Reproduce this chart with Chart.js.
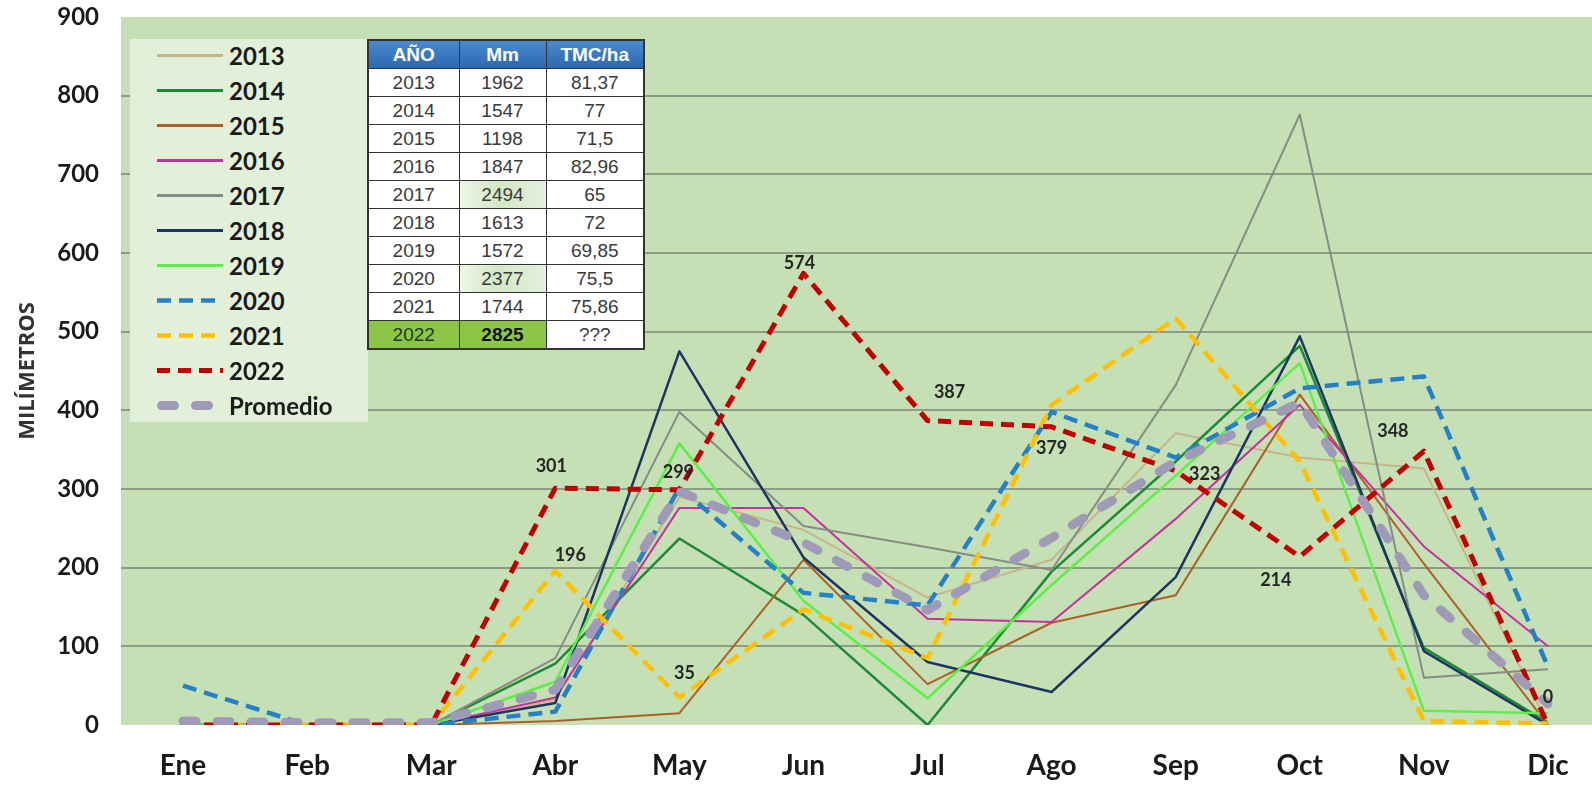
<!DOCTYPE html>
<html lang="es">
<head>
<meta charset="UTF-8">
<title>Precipitación mensual</title>
<script src="https://cdn.jsdelivr.net/npm/chart.js"></script>
<style>
    html, body {
        margin: 0;
        padding: 0;
        background: #ffffff;
        overflow: hidden;
    }
    #wrap {
        position: relative;
        width: 1592px;
        height: 787px;
        overflow: hidden;
    }
    #grafico {
        position: absolute;
        left: 0;
        top: 0;
        display: block;
    }
    #leyenda {
        position: absolute;
        left: 130px;
        top: 39px;
        width: 238px;
        height: 383px;
        background: #e2efd9;
    }
    .item {
        position: absolute;
        left: 27px;
        height: 35px;
        display: flex;
        align-items: center;
        font-family: Lato, sans-serif;
        font-weight: 700;
        font-size: 24px;
        color: #1a1a1a;
    }
    .item svg {
        margin-right: 6px;
    }
    #tabla {
        position: absolute;
        left: 367px;
        top: 39px;
        border-collapse: collapse;
        font-family: "Liberation Sans", Arial, sans-serif;
        font-size: 19px;
        color: #3a3a3a;
        background: #ffffff;
        border: 2px solid #333;
    }
    #tabla th, #tabla td {
        border: 1.5px solid #333;
        padding: 0;
        height: 27px;
        text-align: center;
        line-height: 27px;
    }
    #tabla th {
        background: linear-gradient(#4a8ad0, #2b68b0);
        color: #ffffff;
        font-weight: 700;
        font-size: 19px;
    }
    #tabla td.claro {
        background: linear-gradient(90deg, #eef6e8, #d3e7c5 45%, #e4f0dc);
    }
    #tabla td.verde {
        background: #8cc646;
        color: #1f3a1f;
    }
</style>
</head>
<body>
<div id="wrap">
    <canvas id="grafico" width="1612" height="787"></canvas>
    <div id="leyenda"></div>
    <table id="tabla"></table>
</div>

<script>
    const meses = ['Ene', 'Feb', 'Mar', 'Abr', 'May', 'Jun', 'Jul', 'Ago', 'Sep', 'Oct', 'Nov', 'Dic'];

    // milímetros por mes
    const lluvia2013 = [0, 0, 0, 32, 290, 248, 162, 210, 371, 340, 326, 0];
    const lluvia2014 = [0, 0, 0, 78, 237, 140, 0, 195, 335, 482, 98, 3];
    const lluvia2015 = [0, 0, 0, 5, 15, 210, 52, 130, 165, 420, 205, 0];
    const lluvia2016 = [0, 0, 0, 35, 276, 276, 135, 131, 262, 407, 227, 100];
    const lluvia2017 = [0, 0, 0, 85, 398, 253, 226, 197, 432, 776, 60, 71];
    const lluvia2018 = [0, 0, 0, 28, 475, 213, 80, 42, 188, 494, 94, 0];
    const lluvia2019 = [0, 0, 0, 55, 358, 158, 34, 178, 317, 460, 18, 15];
    const lluvia2020 = [50, 0, 0, 17, 302, 168, 152, 398, 340, 428, 443, 74];
    const lluvia2021 = [0, 0, 0, 196, 35, 147, 85, 407, 517, 335, 5, 2];
    const lluvia2022 = [0, 0, 0, 301, 299, 574, 387, 379, 323, 214, 348, 0];
    const promedio = [5, 3, 3, 45, 297, 232, 146, 238, 335, 410, 165, 27];

    const yTicks = [0, 100, 200, 300, 400, 500, 600, 700, 800, 900];

    // tabla resumen
    const tablaAnio = ['2013', '2014', '2015', '2016', '2017', '2018', '2019', '2020', '2021', '2022'];
    const tablaMm = ['1962', '1547', '1198', '1847', '2494', '1613', '1572', '2377', '1744', '2825'];
    const tablaTmc = ['81,37', '77', '71,5', '82,96', '65', '72', '69,85', '75,5', '75,86', '???'];

    const series = [
        { label: '2013', data: lluvia2013, color: '#c8b48c', width: 2, dash: [] },
        { label: '2014', data: lluvia2014, color: '#1f8a35', width: 2.5, dash: [] },
        { label: '2015', data: lluvia2015, color: '#ad5f28', width: 2, dash: [] },
        { label: '2016', data: lluvia2016, color: '#c6309e', width: 2, dash: [] },
        { label: '2017', data: lluvia2017, color: '#858c85', width: 2, dash: [] },
        { label: '2018', data: lluvia2018, color: '#1c3563', width: 2.5, dash: [] },
        { label: '2019', data: lluvia2019, color: '#5cef48', width: 2.5, dash: [] },
        { label: '2020', data: lluvia2020, color: '#2580c6', width: 4.5, dash: [14, 8] },
        { label: '2021', data: lluvia2021, color: '#ffc000', width: 4.5, dash: [14, 8] },
        { label: '2022', data: lluvia2022, color: '#c00000', width: 5, dash: [13, 8] },
        { label: 'Promedio', data: promedio, color: '#a09ab9', width: 9, dash: [13, 21], cap: 'round' }
    ];

    // desplazamiento de las etiquetas de valor respecto al punto
    const etiquetas = [
        { serie: '2022', dx: [null, null, null, -4, -1, -4, 22, 0, 29, -24, -31, 0],
                         dy: [null, null, null, -22, -18, -10, -28, 21, 3, 24, -20, -28] },
        { serie: '2021', dx: [null, null, null, 15, 5, null, null, null, null, null, null, null],
                         dy: [null, null, null, -16, -24, null, null, null, null, null, null, null] }
    ];

    const fondoPlot = {
        id: 'fondoPlot',
        beforeDraw(chart) {
            const { ctx, chartArea } = chart;
            ctx.save();
            ctx.fillStyle = '#c5e0b4';
            ctx.fillRect(chartArea.left, chartArea.top, chartArea.right - chartArea.left, chartArea.bottom - chartArea.top);
            ctx.restore();
        }
    };

    const valores = {
        id: 'valores',
        afterDatasetsDraw(chart) {
            const ctx = chart.ctx;
            ctx.save();
            ctx.font = '700 18px Lato, sans-serif';
            ctx.fillStyle = '#262626';
            ctx.textAlign = 'center';
            ctx.textBaseline = 'middle';
            etiquetas.forEach(et => {
                const idx = series.findIndex(s => s.label === et.serie);
                const meta = chart.getDatasetMeta(idx);
                const datos = series[idx].data;
                meta.data.forEach((pt, i) => {
                    if (et.dx[i] === null) return;
                    ctx.fillText(String(datos[i]), pt.x + et.dx[i], pt.y + et.dy[i]);
                });
            });
            ctx.restore();
        }
    };

    const ctx = document.getElementById('grafico').getContext('2d');
    new Chart(ctx, {
        type: 'line',
        data: {
            labels: meses,
            datasets: series.map((s, i) => ({
                label: s.label,
                data: s.data,
                borderColor: s.color,
                backgroundColor: s.color,
                borderWidth: s.width,
                borderDash: s.dash,
                borderCapStyle: s.cap || 'butt',
                borderJoinStyle: 'round',
                pointRadius: 0,
                tension: 0,
                fill: false,
                order: series.length - 1 - i
            }))
        },
        options: {
            responsive: false,
            animation: false,
            layout: { padding: { top: 17, right: 2, bottom: 4, left: 0 } },
            plugins: {
                legend: { display: false },
                tooltip: { enabled: false }
            },
            scales: {
                x: {
                    offset: true,
                    afterFit(scale) {
                        scale.height = 58;
                        scale.paddingTop = 0;
                        scale.paddingBottom = 0;
                    },
                    grid: { display: false, drawTicks: false },
                    border: { display: false },
                    ticks: {
                        padding: 24,
                        autoSkip: false,
                        maxRotation: 0,
                        color: '#1a1a1a',
                        font: { family: 'Lato', weight: '700', size: 28 }
                    }
                },
                y: {
                    min: 0,
                    max: 900,
                    afterBuildTicks(scale) {
                        scale.ticks = yTicks.map(v => ({ value: v }));
                    },
                    afterFit(scale) {
                        scale.width = 121;
                        scale.paddingTop = 0;
                        scale.paddingBottom = 0;
                    },
                    grid: {
                        drawTicks: false,
                        lineWidth: 2,
                        color: c => (c.tick && (c.tick.value === 0 || c.tick.value === 900)) ? 'rgba(0,0,0,0)' : '#8d9b87'
                    },
                    border: { display: false },
                    ticks: {
                        padding: 22,
                        color: '#1a1a1a',
                        font: { family: 'Lato', weight: '700', size: 24 }
                    },
                    title: {
                        display: true,
                        text: 'MILÍMETROS',
                        color: '#333333',
                        padding: { top: 15, bottom: 0 },
                        font: { family: 'Open Sans', weight: '700', size: 22 }
                    }
                }
            }
        },
        plugins: [fondoPlot, valores]
    });

    // leyenda
    const leyenda = document.getElementById('leyenda');
    series.forEach((s, i) => {
        const item = document.createElement('div');
        item.className = 'item';
        item.style.top = (55 + 35 * i - 17.5 - 39) + 'px';
        const dash = s.dash.length ? s.dash.join(' ') : 'none';
        const y = 17.5;
        const x0 = s.cap === 'round' ? s.width / 2 : 0;
        const x1 = s.cap === 'round' ? 66 - s.width / 2 : 66;
        item.innerHTML =
            '<svg width="66" height="35"><line x1="' + x0 + '" y1="' + y + '" x2="' + x1 + '" y2="' + y +
            '" stroke="' + s.color + '" stroke-width="' + Math.max(s.width, 3) +
            '" stroke-dasharray="' + dash + '" stroke-linecap="' + (s.cap || 'butt') + '"/></svg>' +
            '<span>' + s.label + '</span>';
        leyenda.appendChild(item);
    });

    // tabla
    const tabla = document.getElementById('tabla');
    let html = '<colgroup><col style="width:91px"><col style="width:87px"><col style="width:98px"></colgroup>';
    html += '<tr><th>AÑO</th><th>Mm</th><th>TMC/ha</th></tr>';
    tablaAnio.forEach((a, i) => {
        const ultimo = i === tablaAnio.length - 1;
        const claseA = ultimo ? ' class="verde"' : '';
        let claseM = '';
        if (ultimo) claseM = ' class="verde" style="font-weight:700;color:#111"';
        else if (a === '2017' || a === '2020') claseM = ' class="claro"';
        html += '<tr><td' + claseA + '>' + a + '</td><td' + claseM + '>' + tablaMm[i] + '</td><td>' + tablaTmc[i] + '</td></tr>';
    });
    tabla.innerHTML = html;
</script>
</body>
</html>
